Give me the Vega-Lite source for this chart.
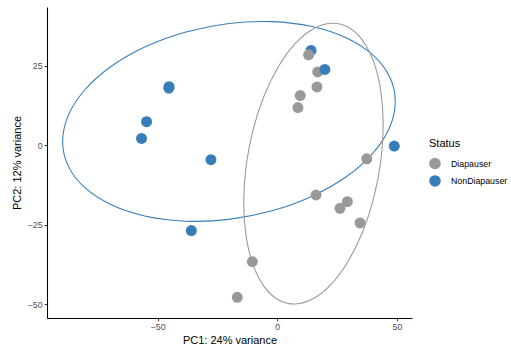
{
  "$schema": "https://vega.github.io/schema/vega-lite/v6.json",
  "width": 365,
  "height": 311,
  "autosize": {"type": "none"},
  "padding": {"left": 47, "top": 7, "right": 99, "bottom": 32},
  "background": "white",
  "config": {
    "view": {"stroke": null},
    "font": "Liberation Sans"
  },
  "datasets": {
    "points": [
      {"Status": "NonDiapauser", "PC1": -45.2, "PC2": 18.5},
      {"Status": "NonDiapauser", "PC1": -45.3, "PC2": 18.0},
      {"Status": "NonDiapauser", "PC1": -54.6, "PC2": 7.45},
      {"Status": "NonDiapauser", "PC1": -56.7, "PC2": 2.2},
      {"Status": "NonDiapauser", "PC1": -27.7, "PC2": -4.5},
      {"Status": "NonDiapauser", "PC1": -35.9, "PC2": -26.8},
      {"Status": "NonDiapauser", "PC1": 14.1, "PC2": 29.9},
      {"Status": "Diapauser", "PC1": 13.1, "PC2": 28.5},
      {"Status": "Diapauser", "PC1": 16.9, "PC2": 23.1},
      {"Status": "NonDiapauser", "PC1": 19.9, "PC2": 23.9},
      {"Status": "NonDiapauser", "PC1": 48.9, "PC2": -0.2},
      {"Status": "Diapauser", "PC1": 16.6, "PC2": 18.4},
      {"Status": "Diapauser", "PC1": 9.6, "PC2": 15.7},
      {"Status": "Diapauser", "PC1": 8.65, "PC2": 11.9},
      {"Status": "Diapauser", "PC1": 37.4, "PC2": -4.2},
      {"Status": "Diapauser", "PC1": 16.2, "PC2": -15.6},
      {"Status": "Diapauser", "PC1": 29.3, "PC2": -17.7},
      {"Status": "Diapauser", "PC1": 26.2, "PC2": -19.8},
      {"Status": "Diapauser", "PC1": 34.6, "PC2": -24.4},
      {"Status": "Diapauser", "PC1": -10.4, "PC2": -36.6},
      {"Status": "Diapauser", "PC1": -16.7, "PC2": -47.8}
    ],
    "ellipses": [
      {"Status": "NonDiapauser", "i": 0, "PC1": 49.31, "PC2": 13.84},
      {"Status": "NonDiapauser", "i": 1, "PC1": 46.94, "PC2": 5.65},
      {"Status": "NonDiapauser", "i": 2, "PC1": 40.0, "PC2": -2.41},
      {"Status": "NonDiapauser", "i": 3, "PC1": 28.96, "PC2": -9.79},
      {"Status": "NonDiapauser", "i": 4, "PC1": 14.57, "PC2": -15.99},
      {"Status": "NonDiapauser", "i": 5, "PC1": -2.2, "PC2": -20.59},
      {"Status": "NonDiapauser", "i": 6, "PC1": -20.18, "PC2": -23.27},
      {"Status": "NonDiapauser", "i": 7, "PC1": -38.16, "PC2": -23.85},
      {"Status": "NonDiapauser", "i": 8, "PC1": -54.93, "PC2": -22.29},
      {"Status": "NonDiapauser", "i": 9, "PC1": -69.32, "PC2": -18.69},
      {"Status": "NonDiapauser", "i": 10, "PC1": -80.36, "PC2": -13.31},
      {"Status": "NonDiapauser", "i": 11, "PC1": -87.3, "PC2": -6.51},
      {"Status": "NonDiapauser", "i": 12, "PC1": -89.67, "PC2": 1.26},
      {"Status": "NonDiapauser", "i": 13, "PC1": -87.3, "PC2": 9.45},
      {"Status": "NonDiapauser", "i": 14, "PC1": -80.36, "PC2": 17.51},
      {"Status": "NonDiapauser", "i": 15, "PC1": -69.32, "PC2": 24.89},
      {"Status": "NonDiapauser", "i": 16, "PC1": -54.93, "PC2": 31.09},
      {"Status": "NonDiapauser", "i": 17, "PC1": -38.16, "PC2": 35.69},
      {"Status": "NonDiapauser", "i": 18, "PC1": -20.18, "PC2": 38.37},
      {"Status": "NonDiapauser", "i": 19, "PC1": -2.2, "PC2": 38.95},
      {"Status": "NonDiapauser", "i": 20, "PC1": 14.57, "PC2": 37.39},
      {"Status": "NonDiapauser", "i": 21, "PC1": 28.96, "PC2": 33.79},
      {"Status": "NonDiapauser", "i": 22, "PC1": 40.0, "PC2": 28.41},
      {"Status": "NonDiapauser", "i": 23, "PC1": 46.94, "PC2": 21.61},
      {"Status": "Diapauser", "i": 0, "PC1": 44.26, "PC2": 6.54},
      {"Status": "Diapauser", "i": 1, "PC1": 43.27, "PC2": -4.87},
      {"Status": "Diapauser", "i": 2, "PC1": 40.36, "PC2": -16.33},
      {"Status": "Diapauser", "i": 3, "PC1": 35.73, "PC2": -27.07},
      {"Status": "Diapauser", "i": 4, "PC1": 29.7, "PC2": -36.35},
      {"Status": "Diapauser", "i": 5, "PC1": 22.67, "PC2": -43.55},
      {"Status": "Diapauser", "i": 6, "PC1": 15.13, "PC2": -48.17},
      {"Status": "Diapauser", "i": 7, "PC1": 7.59, "PC2": -49.89},
      {"Status": "Diapauser", "i": 8, "PC1": 0.57, "PC2": -48.61},
      {"Status": "Diapauser", "i": 9, "PC1": -5.47, "PC2": -44.41},
      {"Status": "Diapauser", "i": 10, "PC1": -10.1, "PC2": -37.57},
      {"Status": "Diapauser", "i": 11, "PC1": -13.01, "PC2": -28.55},
      {"Status": "Diapauser", "i": 12, "PC1": -14.0, "PC2": -17.98},
      {"Status": "Diapauser", "i": 13, "PC1": -13.01, "PC2": -6.57},
      {"Status": "Diapauser", "i": 14, "PC1": -10.1, "PC2": 4.89},
      {"Status": "Diapauser", "i": 15, "PC1": -5.47, "PC2": 15.63},
      {"Status": "Diapauser", "i": 16, "PC1": 0.57, "PC2": 24.91},
      {"Status": "Diapauser", "i": 17, "PC1": 7.59, "PC2": 32.11},
      {"Status": "Diapauser", "i": 18, "PC1": 15.13, "PC2": 36.73},
      {"Status": "Diapauser", "i": 19, "PC1": 22.67, "PC2": 38.45},
      {"Status": "Diapauser", "i": 20, "PC1": 29.7, "PC2": 37.17},
      {"Status": "Diapauser", "i": 21, "PC1": 35.73, "PC2": 32.97},
      {"Status": "Diapauser", "i": 22, "PC1": 40.36, "PC2": 26.13},
      {"Status": "Diapauser", "i": 23, "PC1": 43.27, "PC2": 17.11}
    ]
  },
  "encoding": {
    "x": {
      "field": "PC1", "type": "quantitative",
      "scale": {"domain": [-96.2, 56.3], "nice": false, "zero": false},
      "axis": {
        "title": "PC1: 24% variance",
        "values": [-50, 0, 50],
        "grid": false,
        "domainColor": "black", "domainWidth": 1.07,
        "tickColor": "#333333", "tickSize": 2.75, "tickWidth": 1.07,
        "labelColor": "#4D4D4D", "labelFontSize": 8.8, "labelPadding": 2.2,
        "labelFont": "Liberation Sans",
        "titleFont": "Liberation Sans", "titleFontSize": 11, "titleFontWeight": "normal", "titleColor": "black",
        "titleX": 182.5, "titleY": 22.4, "titleBaseline": "middle", "titleAlign": "center"
      }
    },
    "y": {
      "field": "PC2", "type": "quantitative",
      "scale": {"domain": [-54.3, 43.55], "nice": false, "zero": false},
      "axis": {
        "title": "PC2: 12% variance",
        "values": [-50, -25, 0, 25],
        "grid": false,
        "domainColor": "black", "domainWidth": 1.07,
        "tickColor": "#333333", "tickSize": 2.75, "tickWidth": 1.07,
        "labelColor": "#4D4D4D", "labelFontSize": 8.8, "labelPadding": 2.2,
        "labelFont": "Liberation Sans",
        "titleFont": "Liberation Sans", "titleFontSize": 11, "titleFontWeight": "normal", "titleColor": "black",
        "titleX": -30, "titleY": 155.5, "titleBaseline": "middle", "titleAlign": "center", "titleAngle": -90
      }
    }
  },
  "layer": [
    {
      "data": {"name": "ellipses"},
      "mark": {"type": "line", "interpolate": "cardinal-closed", "strokeWidth": 1.07},
      "encoding": {
        "order": {"field": "i", "type": "quantitative"},
        "detail": {"field": "Status", "type": "nominal"},
        "stroke": {
          "field": "Status", "type": "nominal",
          "scale": {"domain": ["NonDiapauser", "Diapauser"], "range": ["#377EB8", "#999999"]},
          "legend": null
        }
      }
    },
    {
      "data": {"name": "points"},
      "mark": {"type": "circle", "opacity": 1, "size": 120},
      "encoding": {
        "color": {
          "field": "Status", "type": "nominal",
          "scale": {"domain": ["Diapauser", "NonDiapauser"], "range": ["#999999", "#377EB8"]},
          "legend": {
            "title": "Status",
            "orient": "none",
            "legendX": 382,
            "legendY": 130.5,
            "titleFont": "Liberation Sans", "titleFontSize": 11, "titleFontWeight": "normal", "titleColor": "black",
            "titlePadding": 9,
            "labelFont": "Liberation Sans", "labelFontSize": 8.8, "labelColor": "black",
            "labelOffset": 10,
            "symbolType": "circle", "symbolSize": 133, "symbolOpacity": 1, "symbolStrokeWidth": 0,
            "rowPadding": 5.4,
            "padding": 0
          }
        }
      }
    }
  ]
}
